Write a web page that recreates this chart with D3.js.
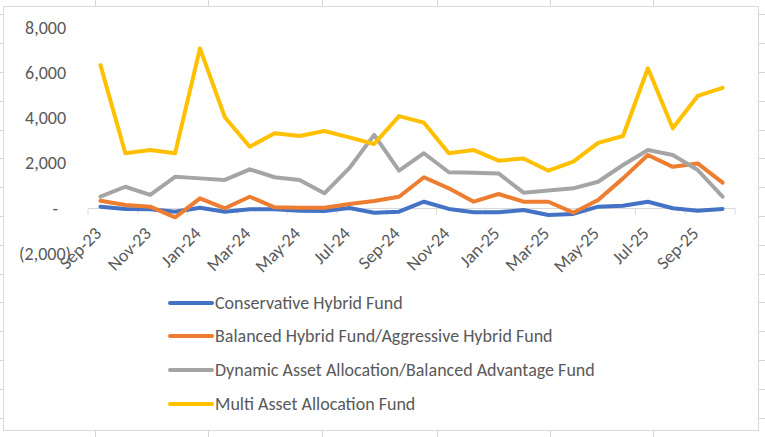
<!DOCTYPE html>
<html><head><meta charset="utf-8">
<script src="https://cdn.jsdelivr.net/npm/d3@7"></script>
<style>body{margin:0;background:#fff}svg{display:block}text{font-family:Carlito,"Liberation Sans",Arial,sans-serif}</style>
</head><body><svg id="c" width="765" height="437"></svg>
<script>
const months = ["Sep-23","Oct-23","Nov-23","Dec-23","Jan-24","Feb-24","Mar-24","Apr-24","May-24","Jun-24","Jul-24","Aug-24","Sep-24","Oct-24","Nov-24","Dec-24","Jan-25","Feb-25","Mar-25","Apr-25","May-25","Jun-25","Jul-25","Aug-25","Sep-25","Oct-25"];
const seriesNames = ["Conservative Hybrid Fund","Balanced Hybrid Fund/Aggressive Hybrid Fund","Dynamic Asset Allocation/Balanced Advantage Fund","Multi Asset Allocation Fund"];
const conservative = [80,-20,-35,-140,35,-140,-35,-35,-100,-110,20,-185,-140,300,-20,-170,-170,-70,-290,-240,80,120,300,10,-100,-20];
const balanced = [340,155,80,-390,450,10,520,50,35,35,200,330,520,1380,890,300,640,300,300,-185,375,1330,2360,1840,1990,1140];
const dynamic = [520,960,600,1400,1330,1260,1730,1380,1260,670,1780,3250,1670,2440,1600,1580,1550,700,790,890,1180,1920,2580,2360,1700,520];
const multi = [6330,2440,2580,2440,7070,4030,2730,3320,3200,3420,3140,2850,4080,3790,2440,2580,2110,2210,1670,2070,2900,3200,6190,3540,4970,5330];
const yTicks = [-2000,0,2000,4000,6000,8000];
const colors = ["#4472C4","#ED7D31","#A5A5A5","#FFC000"];
const data = [conservative, balanced, dynamic, multi];

const svg = d3.select("#c");
const colLines = [95,208,322,437,550,653];
const rowLines = d3.range(0,16).map(i=>14.4+28.8*i);
const grid = svg.append("g").attr("stroke","#d6d6d6").attr("stroke-width",1);
colLines.forEach(x=>grid.append("line").attr("x1",x+0.5).attr("x2",x+0.5).attr("y1",0).attr("y2",437));
rowLines.forEach(y=>grid.append("line").attr("x1",0).attr("x2",765).attr("y1",Math.round(y)+0.5).attr("y2",Math.round(y)+0.5));
svg.append("rect").attr("x",3.5).attr("y",6.5).attr("width",755).attr("height",424).attr("fill","#fff").attr("stroke","#d9d9d9");

const x = d3.scaleBand().domain(months).range([88,735]);
const y = d3.scaleLinear().domain([-2000,8000]).range([253.8,27.3]);

const fmt = v => v===0 ? "-" : (v<0 ? "("+d3.format(",")(-v)+")" : d3.format(",")(v));
const yAxis = svg.append("g").attr("transform","translate(66,0)")
  .call(d3.axisLeft(y).tickValues(yTicks).tickFormat(fmt).tickSize(0).tickPadding(0));
yAxis.select(".domain").remove();
yAxis.selectAll("text").attr("font-size",18).attr("fill","#595959").attr("font-family",null)
  .attr("dx",d=>d<0?5:(d===0?-8:0));

const xg = svg.append("g").attr("transform",`translate(0,${y(0)})`);
xg.append("line").attr("x1",88).attr("x2",735).attr("y1",0).attr("y2",0).attr("stroke","#d9d9d9").attr("stroke-width",1);
const tickIdx = d3.range(0,months.length+1,2);
xg.selectAll(".tk").data(tickIdx).join("line").attr("class","tk")
  .attr("x1",i=>88+x.step()*i).attr("x2",i=>88+x.step()*i).attr("y1",0).attr("y2",6).attr("stroke","#d9d9d9");
xg.selectAll(".lb").data(months.filter((m,i)=>i%2===0)).join("text").attr("class","lb")
  .attr("transform",m=>`translate(${x(m)+x.bandwidth()/2+2},26) rotate(-45)`)
  .attr("text-anchor","end").attr("font-size",18).attr("fill","#595959").text(m=>m);

const line = d3.line().x((d,i)=>x(months[i])+x.bandwidth()/2).y(d=>y(d));
data.forEach((s,k)=>{
  svg.append("path").datum(s).attr("d",line).attr("fill","none").attr("stroke",colors[k])
    .attr("stroke-width",4).attr("stroke-linejoin","round").attr("stroke-linecap","round");
});

const legY = [303,336,370,404];
seriesNames.forEach((n,k)=>{
  svg.append("line").attr("x1",170).attr("x2",212).attr("y1",legY[k]).attr("y2",legY[k]).attr("stroke",colors[k]).attr("stroke-width",4).attr("stroke-linecap","round");
  svg.append("text").attr("x",215).attr("y",legY[k]).attr("dy","0.35em").attr("font-size",18).attr("fill","#595959").text(n);
});
</script></body></html>
